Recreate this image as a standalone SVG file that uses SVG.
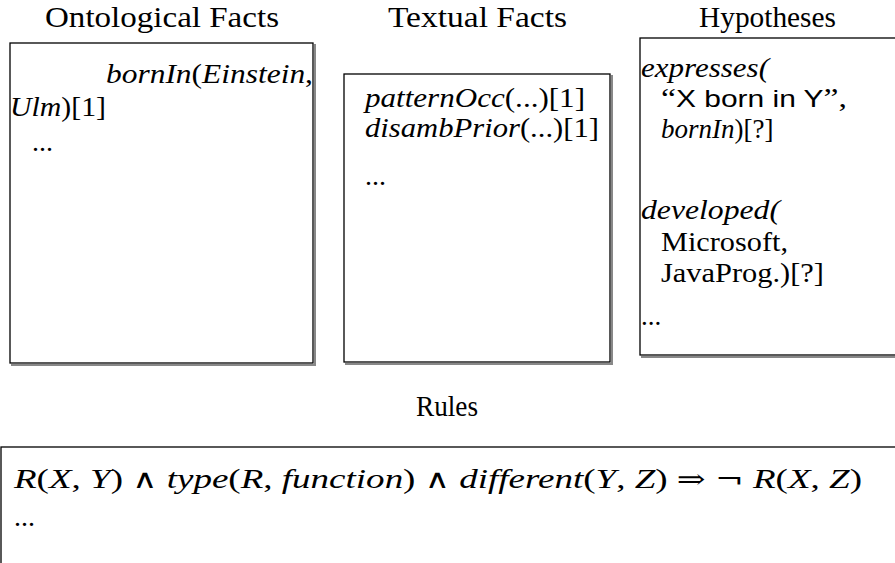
<svg xmlns="http://www.w3.org/2000/svg" width="895" height="563" viewBox="0 0 895 563">
<style>
text{font-family:"Liberation Serif","DejaVu Serif",serif;fill:#000}
.t{font-size:30px}
.c{font-size:28px}
.h{font-size:27px}
.i{font-style:italic}
.op{font-family:"DejaVu Serif",serif;font-size:26px}
.s{font-family:"Liberation Sans",Arial,sans-serif;font-size:24px}
.box{fill:#fff;stroke:#000;stroke-width:1.3}
.sh{fill:none;stroke:#888;stroke-width:2}
</style>
<rect width="895" height="563" fill="#fff"/>
<g id="ontological">
<text class="t" x="45" y="27" textLength="234" lengthAdjust="spacingAndGlyphs">Ontological Facts</text>
<polyline class="sh" points="315,44 315,365 11,365"/>
<rect class="box" x="10" y="43" width="303" height="320"/>
<text class="c" x="106" y="83" textLength="207" lengthAdjust="spacingAndGlyphs"><tspan class="i">bornIn</tspan>(<tspan class="i">Einstein</tspan>,</text>
<text class="c" x="10" y="116" textLength="96" lengthAdjust="spacingAndGlyphs"><tspan class="i">Ulm</tspan>)[1]</text>
<text class="c" x="32" y="151">...</text>
</g>
<g id="textual">
<text class="t" x="388" y="27" textLength="179" lengthAdjust="spacingAndGlyphs">Textual Facts</text>
<polyline class="sh" points="612,75 612,364 345,364"/>
<rect class="box" x="344" y="74" width="266" height="288"/>
<text class="c" x="365" y="107" textLength="220" lengthAdjust="spacingAndGlyphs"><tspan class="i">patternOcc</tspan>(...)[1]</text>
<text class="c" x="365" y="137" textLength="234" lengthAdjust="spacingAndGlyphs"><tspan class="i">disambPrior</tspan>(...)[1]</text>
<text class="c" x="365" y="185">...</text>
</g>
<g id="hypotheses">
<text class="t" x="699" y="27" textLength="137" lengthAdjust="spacingAndGlyphs">Hypotheses</text>
<polyline class="sh" points="897,357 641,357"/>
<rect class="box" x="640" y="38" width="270" height="317"/>
<text class="h i" x="641" y="77" textLength="128" lengthAdjust="spacingAndGlyphs">expresses(</text>
<text class="h" x="661" y="107" textLength="186" lengthAdjust="spacingAndGlyphs">“<tspan class="s">X born in Y</tspan>”,</text>
<text class="h" x="661" y="138"><tspan class="i">bornIn</tspan>)[?]</text>
<text class="h i" x="641" y="219" textLength="139" lengthAdjust="spacingAndGlyphs">developed(</text>
<text class="h" x="661" y="251" textLength="127" lengthAdjust="spacingAndGlyphs">Microsoft,</text>
<text class="h" x="661" y="282" textLength="163" lengthAdjust="spacingAndGlyphs">JavaProg.)[?]</text>
<text class="h" x="641" y="325">...</text>
</g>
<g id="rules">
<text class="t" x="416" y="416" textLength="62" lengthAdjust="spacingAndGlyphs">Rules</text>
<rect class="box" x="1" y="447" width="910" height="130"/>
<text class="c" x="14" y="488" textLength="848" lengthAdjust="spacingAndGlyphs"><tspan class="i">R</tspan>(<tspan class="i">X</tspan>, <tspan class="i">Y</tspan>) <tspan class="op">∧</tspan> <tspan class="i">type</tspan>(<tspan class="i">R</tspan>, <tspan class="i">function</tspan>) <tspan class="op">∧</tspan> <tspan class="i">different</tspan>(<tspan class="i">Y</tspan>, <tspan class="i">Z</tspan>) <tspan class="op">⇒</tspan> <tspan class="op">¬</tspan> <tspan class="i">R</tspan>(<tspan class="i">X</tspan>, <tspan class="i">Z</tspan>)</text>
<text class="c" x="14" y="526">...</text>
</g>
<g id="connectors"></g>
</svg>
